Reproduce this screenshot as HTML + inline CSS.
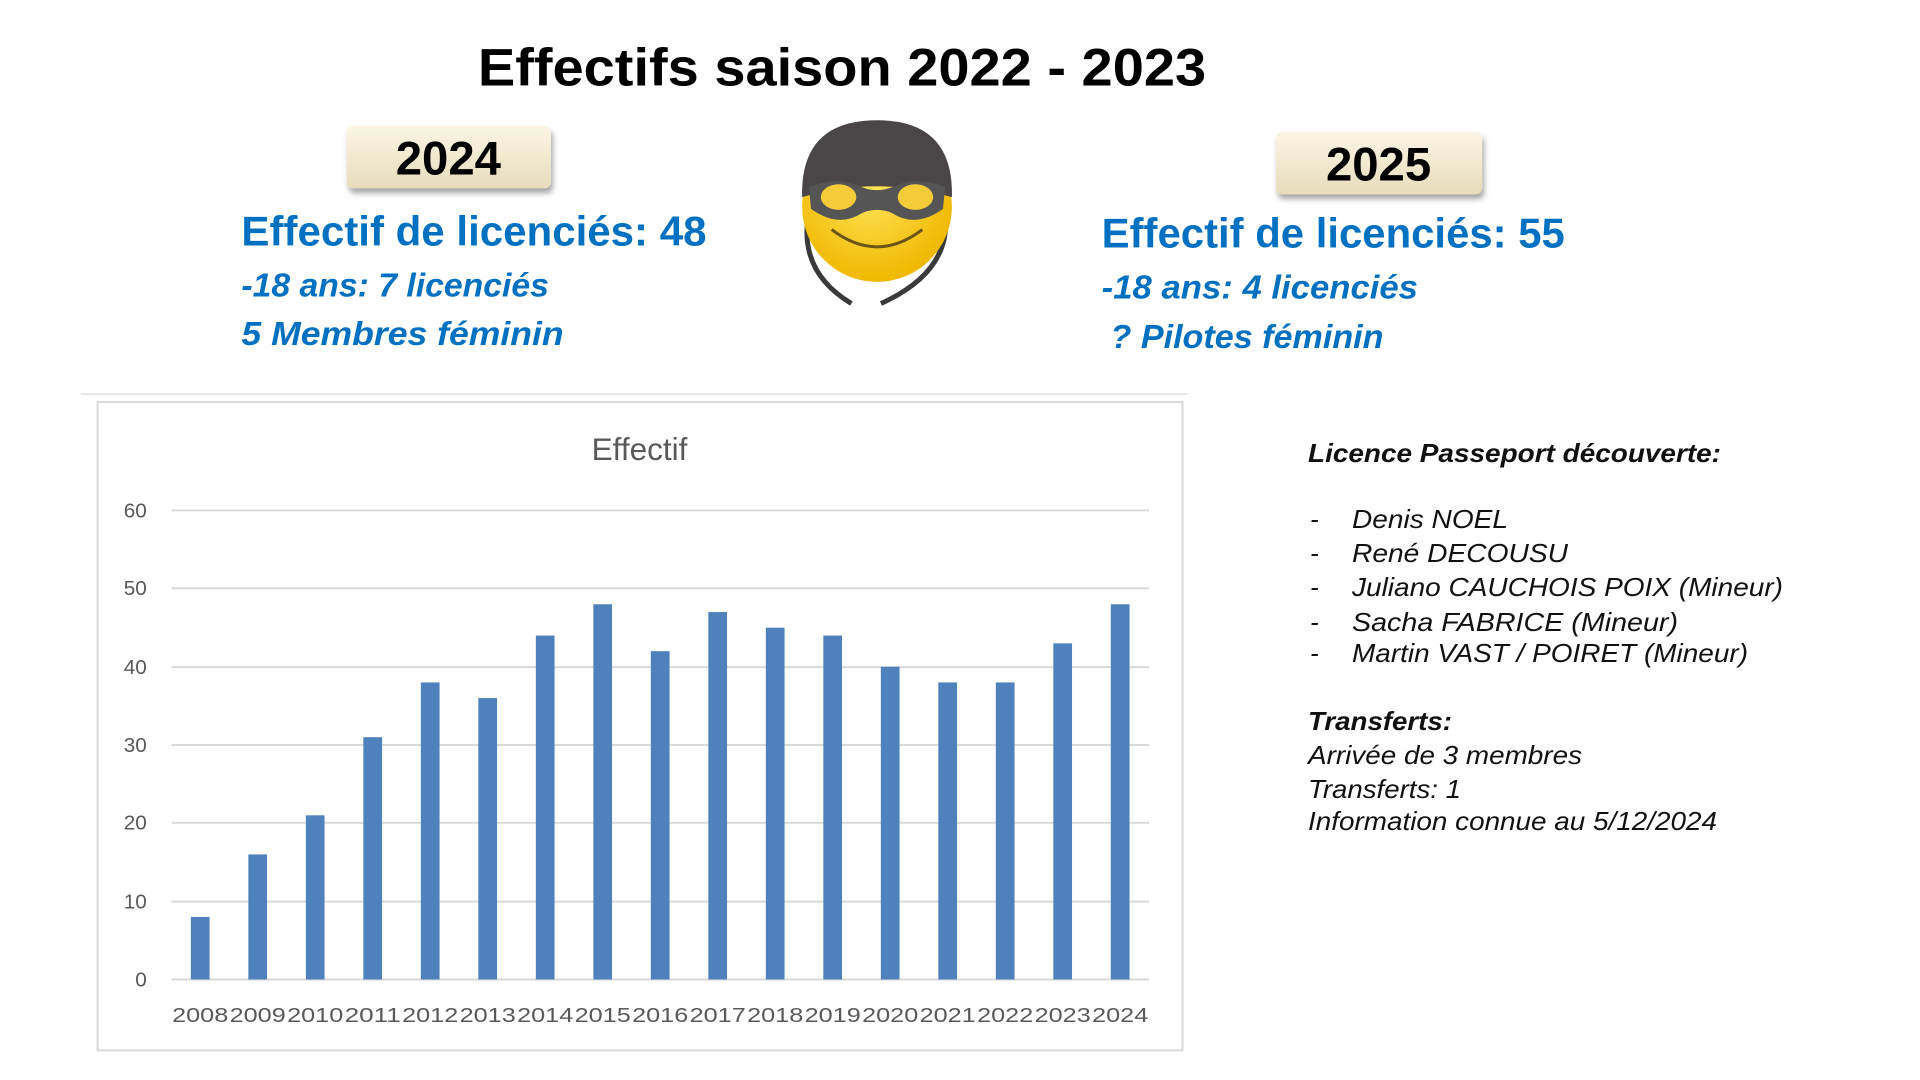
<!DOCTYPE html>
<html><head><meta charset="utf-8"><style>
html,body{margin:0;padding:0;background:#fff;width:1920px;height:1080px;overflow:hidden}
svg{display:block}
.b{fill:#0070C0;font-family:"Liberation Sans",sans-serif;font-weight:bold}
.ax{fill:#595959;font-family:"Liberation Sans",sans-serif;font-size:21px}
.r{font-family:"Liberation Sans",sans-serif;font-style:italic;font-size:26px;fill:#111}
</style></head><body>
<svg width="1920" height="1080" viewBox="0 0 1920 1080">
<defs>
<linearGradient id="bx" x1="0" y1="0" x2="0" y2="1"><stop offset="0" stop-color="#fbf5e4"/><stop offset="1" stop-color="#e8dcbc"/></linearGradient>
<filter id="sh" x="-10%" y="-10%" width="130%" height="140%"><feDropShadow dx="2" dy="5" stdDeviation="3" flood-color="#000" flood-opacity="0.35"/></filter>
<radialGradient id="fc" cx="0.45" cy="0.4" r="0.6"><stop offset="0" stop-color="#ffe45a"/><stop offset="1" stop-color="#f0b800"/></radialGradient>
</defs>
<g transform="scale(0.9854)">
<text x="485" y="87" font-family="Liberation Sans,sans-serif" font-weight="bold" font-size="54" textLength="739" lengthAdjust="spacingAndGlyphs">Effectifs saison 2022 - 2023</text>

<rect x="352" y="128" width="207" height="63" rx="6" fill="url(#bx)" filter="url(#sh)"/>
<text x="455" y="177" text-anchor="middle" font-family="Liberation Sans,sans-serif" font-weight="bold" font-size="48">2024</text>
<rect x="1295" y="134" width="209" height="63" rx="6" fill="url(#bx)" filter="url(#sh)"/>
<text x="1399" y="183" text-anchor="middle" font-family="Liberation Sans,sans-serif" font-weight="bold" font-size="48">2025</text>

<text class="b" x="245" y="249" font-size="42" textLength="472" lengthAdjust="spacingAndGlyphs">Effectif de  licenciés: 48</text>
<text class="b" x="245" y="301" font-size="34" font-style="italic" textLength="312" lengthAdjust="spacingAndGlyphs">-18 ans: 7 licenciés</text>
<text class="b" x="245" y="350" font-size="34" font-style="italic" textLength="327" lengthAdjust="spacingAndGlyphs">5 Membres féminin</text>
<text class="b" x="1118" y="251" font-size="42" textLength="470" lengthAdjust="spacingAndGlyphs">Effectif de  licenciés: 55</text>
<text class="b" x="1118" y="303" font-size="34" font-style="italic" textLength="321" lengthAdjust="spacingAndGlyphs">-18 ans:  4 licenciés</text>
<text class="b" x="1127" y="353" font-size="34" font-style="italic" textLength="277" lengthAdjust="spacingAndGlyphs">? Pilotes féminin</text>

<!-- smiley -->
<g transform="translate(9,0)">
<path d="M812 215 Q800 275 855 308" fill="none" stroke="#3a3a3a" stroke-width="5"/>
<path d="M950 215 Q958 275 885 308" fill="none" stroke="#3a3a3a" stroke-width="5"/>
<circle cx="881" cy="210" r="76" fill="url(#fc)"/>
<path d="M805 200 Q803 122 881 122 Q959 122 957 200 Q881 178 805 200Z" fill="#4a4648"/>
<path d="M812 190 Q840 178 866 190 Q881 196 896 190 Q922 178 950 190 L948 212 Q920 232 896 216 Q881 210 866 216 Q842 232 814 212 Z" fill="#555"/>
<ellipse cx="842" cy="200" rx="18" ry="13" fill="#f4cc3a"/>
<ellipse cx="920" cy="200" rx="18" ry="13" fill="#f4cc3a"/>
<path d="M835 233 Q881 268 927 233" fill="none" stroke="#6b5414" stroke-width="3"/>
</g>

<!-- chart -->
<line x1="82" y1="400" x2="1205" y2="400" stroke="#e6e6e6" stroke-width="2"/>
<rect x="99" y="408" width="1101" height="658" fill="#fff" stroke="#d9d9d9" stroke-width="2"/>
<text x="649" y="467" text-anchor="middle" font-family="Liberation Sans,sans-serif" font-size="32" fill="#595959">Effectif</text>
<g stroke="#d9d9d9" stroke-width="2">
<line x1="174" y1="518" x2="1166" y2="518"/><line x1="174" y1="597" x2="1166" y2="597"/>
<line x1="174" y1="677" x2="1166" y2="677"/><line x1="174" y1="756" x2="1166" y2="756"/>
<line x1="174" y1="835" x2="1166" y2="835"/><line x1="174" y1="915" x2="1166" y2="915"/>
<line x1="174" y1="994" x2="1166" y2="994"/>
</g>
<g class="ax" text-anchor="end">
<text x="149" y="525">60</text><text x="149" y="604">50</text><text x="149" y="684">40</text>
<text x="149" y="763">30</text><text x="149" y="842">20</text><text x="149" y="922">10</text><text x="149" y="1001">0</text>
</g>
<g fill="#4f81bd" id="bars"></g>
<g class="ax" id="xl"></g>
</g>

<!-- right text -->
<g class="r">
<text x="1308" y="462" font-weight="bold" textLength="413" lengthAdjust="spacingAndGlyphs">Licence Passeport découverte:</text>
<text x="1310" y="528">-</text><text x="1352" y="528" textLength="156" lengthAdjust="spacingAndGlyphs">Denis NOEL</text>
<text x="1310" y="562">-</text><text x="1352" y="562" textLength="216" lengthAdjust="spacingAndGlyphs">René DECOUSU</text>
<text x="1310" y="596">-</text><text x="1352" y="596" textLength="431" lengthAdjust="spacingAndGlyphs">Juliano CAUCHOIS POIX (Mineur)</text>
<text x="1310" y="631">-</text><text x="1352" y="631" textLength="326" lengthAdjust="spacingAndGlyphs">Sacha FABRICE  (Mineur)</text>
<text x="1310" y="662">-</text><text x="1352" y="662" textLength="396" lengthAdjust="spacingAndGlyphs">Martin VAST / POIRET (Mineur)</text>
<text x="1308" y="730" font-weight="bold" textLength="144" lengthAdjust="spacingAndGlyphs">Transferts:</text>
<text x="1308" y="764" textLength="274" lengthAdjust="spacingAndGlyphs">Arrivée de 3 membres</text>
<text x="1308" y="798" textLength="153" lengthAdjust="spacingAndGlyphs">Transferts: 1</text>
<text x="1308" y="830" textLength="409" lengthAdjust="spacingAndGlyphs">Information connue au 5/12/2024</text>
</g>
</svg>
<script>
var v=[8,16,21,31,38,36,44,48,42,47,45,44,40,38,38,43,48],b=document.getElementById('bars'),x=document.getElementById('xl'),ns='http://www.w3.org/2000/svg';
for(var i=0;i<17;i++){var c=174+58.35*(i+0.5),h=v[i]*7.933;
var r=document.createElementNS(ns,'rect');r.setAttribute('x',c-9.5);r.setAttribute('y',994-h);r.setAttribute('width',19);r.setAttribute('height',h);b.appendChild(r);
var t=document.createElementNS(ns,'text');t.setAttribute('x',c-28.5);t.setAttribute('y',1037);t.setAttribute('textLength',57);t.setAttribute('lengthAdjust','spacingAndGlyphs');t.textContent=2008+i;x.appendChild(t);}
</script>
</body></html>
